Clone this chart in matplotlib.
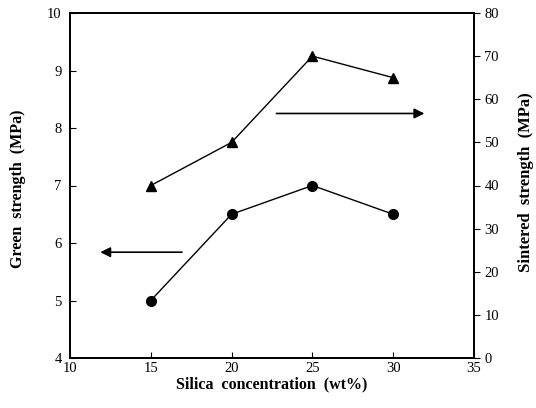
import matplotlib.pyplot as plt

silica = [15, 20, 25, 30]
green = [5.0, 6.5, 7.0, 6.5]          # MPa, left axis
sintered = [40, 50, 70, 65]           # MPa, right axis

plt.rcParams['font.family'] = 'Liberation Serif'

fig = plt.figure(figsize=(5.36, 4.08), dpi=100)
ax = fig.add_axes([70 / 536, 50 / 408, 404 / 536, 345 / 408])
ax2 = ax.twinx()

ax.plot(silica, green, color='black', lw=1, marker='o', ms=7)
ax2.plot(silica, sintered, color='black', lw=1, marker='^', ms=7)

ax.set_xlim(10, 35)
ax.set_ylim(4, 10)
ax2.set_ylim(0, 80)
ax.set_xticks([10, 15, 20, 25, 30, 35])
ax.set_yticks(range(4, 11))
ax2.set_yticks(range(0, 81, 10))

ax.tick_params(direction='in', length=4, labelsize=10.5)
ax.tick_params(axis='x', pad=3)
ax.tick_params(axis='y', pad=6)
ax2.tick_params(direction='out', length=4, labelsize=10.5)
for a in (ax, ax2):
    for s in a.spines.values():
        s.set_linewidth(1.3)

# arrows pointing to each axis
ax.annotate('', xy=(11.7, 5.84), xytext=(17.1, 5.84),
            arrowprops=dict(arrowstyle='-|>', color='black', lw=1.2, mutation_scale=15))
ax2.annotate('', xy=(32.1, 56.7), xytext=(22.6, 56.7),
             arrowprops=dict(arrowstyle='-|>', color='black', lw=1.2, mutation_scale=15))

ax.set_xlabel('Silica  concentration  (wt%)', fontweight='bold', fontsize=11.5)
ax.set_ylabel('Green  strength  (MPa)', fontweight='bold', fontsize=11.5)
ax2.set_ylabel('Sintered  strength  (MPa)', fontweight='bold', fontsize=12)
ax.xaxis.set_label_coords(0.5, -0.052)
ax.yaxis.set_label_coords(-0.11, 0.49)
ax2.yaxis.set_label_coords(1.11, 0.51)

fig.savefig('out.png', dpi=100)
